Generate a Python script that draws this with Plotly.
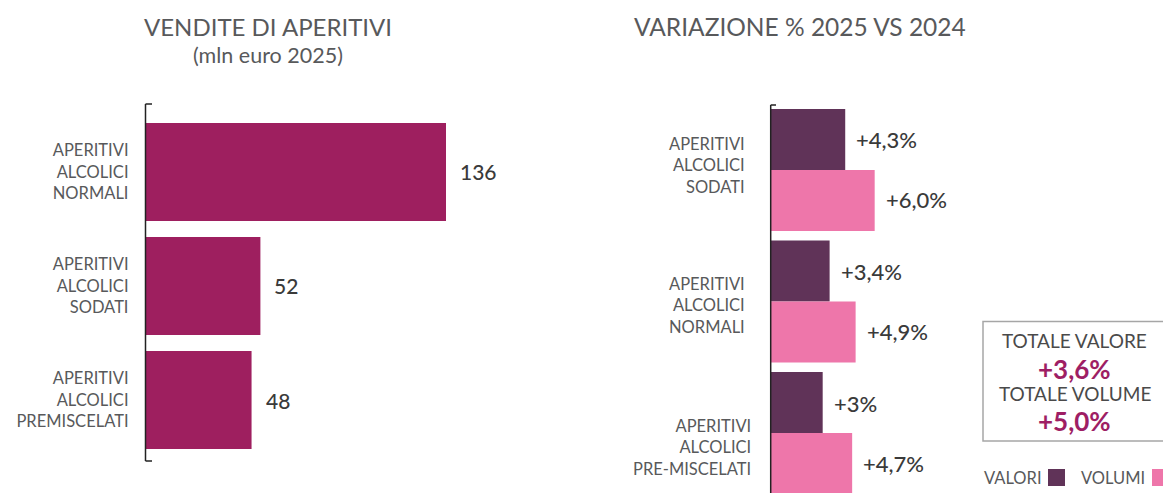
import plotly.graph_objects as go

# Data
vendite_cat = ["APERITIVI<br>ALCOLICI<br>NORMALI", "APERITIVI<br>ALCOLICI<br>SODATI",
               "APERITIVI<br>ALCOLICI<br>PREMISCELATI"]
vendite_val = [136, 52, 48]

var_cat = ["APERITIVI<br>ALCOLICI<br>SODATI", "APERITIVI<br>ALCOLICI<br>NORMALI",
           "APERITIVI<br>ALCOLICI<br>PRE-MISCELATI"]
var_valori = [4.3, 3.4, 3.0]
var_volumi = [6.0, 4.9, 4.7]
var_valori_txt = ["+4,3%", "+3,4%", "+3%"]
var_volumi_txt = ["+6,0%", "+4,9%", "+4,7%"]

totale_valore = "+3,6%"
totale_volume = "+5,0%"

# Layout helpers (pixels -> paper)
W, H = 1163, 493
def px(x):
    return x / W
def py(y):
    return 1 - y / H

FONT = "Lato"
GREY = "#58595b"
DARK = "#3a3a3a"
C_VEND = "#9e1f5f"
C_VALORI = "#603358"
C_VOLUMI = "#ee76aa"
C_TOT = "#9e1e64"

fig = go.Figure()

fig.add_trace(go.Bar(
    x=vendite_val, y=vendite_cat, orientation="h", width=0.86,
    marker=dict(color=C_VEND, line=dict(width=0)),
    xaxis="x", yaxis="y", showlegend=False, hoverinfo="x+y"))

fig.add_trace(go.Bar(
    x=var_valori, y=var_cat, orientation="h", width=0.464, offset=-0.464,
    marker=dict(color=C_VALORI, line=dict(width=0)), name="VALORI",
    xaxis="x2", yaxis="y2", showlegend=False))
fig.add_trace(go.Bar(
    x=var_volumi, y=var_cat, orientation="h", width=0.464, offset=0,
    marker=dict(color=C_VOLUMI, line=dict(width=0)), name="VOLUMI",
    xaxis="x2", yaxis="y2", showlegend=False))

def note(x, y, text, size, color, xanchor="center", **kw):
    d = dict(x=x, y=y, xref="paper", yref="paper", text=text, showarrow=False,
             xanchor=xanchor, yanchor="middle", font=dict(size=size, color=color))
    d.update(kw)
    return d

annotations = []
# value labels
for c, v in zip(vendite_cat, vendite_val):
    annotations.append(dict(x=v, y=c, xref="x", yref="y", text=str(v), showarrow=False,
                            xanchor="left", yanchor="middle", xshift=12,
                            font=dict(size=21, color=DARK, weight=500)))
for c, v, t in zip(var_cat, var_valori, var_valori_txt):
    annotations.append(dict(x=v, y=c, xref="x2", yref="y2", text=t, showarrow=False,
                            xanchor="left", yanchor="middle", xshift=9, yshift=30,
                            font=dict(size=22, color=DARK, weight=500)))
for c, v, t in zip(var_cat, var_volumi, var_volumi_txt):
    annotations.append(dict(x=v, y=c, xref="x2", yref="y2", text=t, showarrow=False,
                            xanchor="left", yanchor="middle", xshift=9, yshift=-30,
                            font=dict(size=22, color=DARK, weight=500)))

# right chart category labels
label_shift = [(-24, 4), (-24, -4), (-18, -14)]
for c, (xs, ys) in zip(var_cat, label_shift):
    annotations.append(dict(x=0, y=c, xref="x2", yref="y2", text=c, showarrow=False,
                            xanchor="right", yanchor="middle", align="right",
                            xshift=xs, yshift=ys, font=dict(size=16.5, color=GREY)))

# titles
annotations += [
    note(px(268), py(27), "VENDITE DI APERITIVI", 24, GREY),
    note(px(268), py(55), "(mln euro 2025)", 21.5, GREY),
    note(px(799.5), py(27), "VARIAZIONE % 2025 VS 2024", 24.5, GREY),
]

# totals box
annotations += [
    note(px(1074.5), py(340), "TOTALE VALORE", 19, "#4a4a4a"),
    note(px(1074.5), py(369), "<b>%s</b>" % totale_valore, 26, C_TOT),
    note(px(1074.5), py(393), "TOTALE VOLUME", 19, "#4a4a4a"),
    note(px(1074.5), py(421), "<b>%s</b>" % totale_volume, 26, C_TOT),
]

# legend
annotations += [
    note(px(982), py(478), "VALORI", 16.5, GREY, xanchor="left"),
    note(px(1079), py(478), "VOLUMI", 16.5, GREY, xanchor="left"),
]

axis_col = "#222222"
def line(x0, y0, x1, y1):
    return dict(type="line", xref="paper", yref="paper", x0=px(x0), x1=px(x1),
                y0=py(y0), y1=py(y1), line=dict(color=axis_col, width=1.5))

shapes = [
    # left axis bracket
    line(145.5, 104, 145.5, 461),
    line(145.5, 104, 152, 104),
    line(145.5, 461, 152, 461),
    # right axis
    line(770.7, 105, 770.7, 493),
    line(770.7, 105, 776, 105),
    # totals box
    dict(type="rect", xref="paper", yref="paper", x0=px(983), x1=1.01, y0=py(441), y1=py(321.5),
         line=dict(color="#a6a6a6", width=1.5), fillcolor="rgba(0,0,0,0)"),
    # legend squares
    dict(type="rect", xref="paper", yref="paper", x0=px(1048), x1=px(1065), y0=py(486), y1=py(469),
         line=dict(width=0), fillcolor=C_VALORI),
    dict(type="rect", xref="paper", yref="paper", x0=px(1152), x1=px(1169), y0=py(486), y1=py(469),
         line=dict(width=0), fillcolor=C_VOLUMI),
]

fig.update_layout(
    width=W, height=H,
    margin=dict(l=0, r=0, t=0, b=0),
    paper_bgcolor="white", plot_bgcolor="white",
    font=dict(family=FONT, color=GREY),
    barmode="overlay",
    xaxis=dict(domain=[px(145.5), px(600)], range=[0, (600 - 145.5) / 300.5 * 136],
               visible=False, fixedrange=True),
    yaxis=dict(domain=[py(461), py(104)], range=[2.535, -0.596], type="category",
               showline=False, showgrid=False, zeroline=False, ticks="",
               ticklabelstandoff=16, tickfont=dict(size=16.5, color=GREY),
               anchor="x", fixedrange=True),
    xaxis2=dict(domain=[px(770.7), px(980)], range=[0, (980 - 770.7) / 17.33],
                visible=False, anchor="y2", fixedrange=True),
    yaxis2=dict(domain=[0, py(105)], range=[2.456, -0.494], type="category",
                showline=False, showgrid=False, zeroline=False, showticklabels=False,
                anchor="x2", fixedrange=True),
    annotations=annotations,
    shapes=shapes,
)

# page body margin off so the 1163x493 figure sits at the window's corner
fig.write_html("out.html", config={"displayModeBar": False},
               post_script="document.body.style.margin='0px';")
